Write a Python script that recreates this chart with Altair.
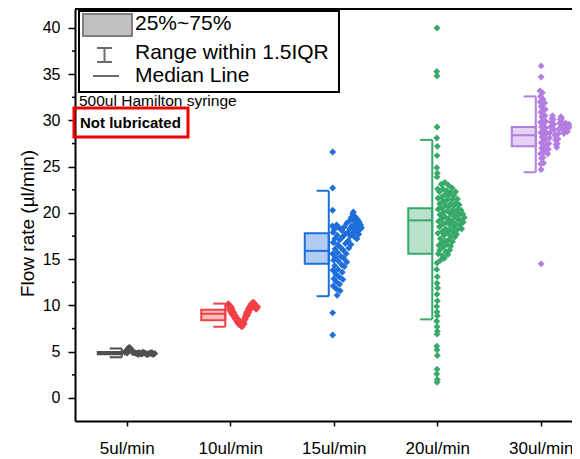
import json
import altair as alt
import pandas as pd

FONT = "Liberation Sans"

categories = ["5ul/min", "10ul/min", "15ul/min", "20ul/min", "30ul/min"]
colors = ["#505050", "#f04146", "#1e6edc", "#37aa69", "#b47de1"]

# box statistics
q1 = [4.72, 8.40, 14.5, 15.6, 27.2]
median = [4.85, 9.10, 15.9, 19.2, 28.4]
q3 = [4.98, 9.55, 17.8, 20.5, 29.3]
whisk_lo = [4.40, 7.70, 11.0, 8.5, 24.4]
whisk_hi = [5.35, 10.2, 22.4, 27.9, 32.6]

y_ticks = [0, 5, 10, 15, 20, 25, 30, 35, 40]
y_minor = [2.5, 7.5, 12.5, 17.5, 22.5, 27.5, 32.5, 37.5]

y_title = "Flow rate (µl/min)"
legend_labels = ["25%~75%", "Range within 1.5IQR", "Median Line"]
note_text = "500ul Hamilton syringe"
note_bold = "Not lubricated"

# points: [sample position within the group (0..100), flow rate]
pts_5 = [[0, 4.95], [3, 5.00], [5, 5.05], [7, 5.12], [9, 5.22], [11, 5.32], [13, 5.40],
         [15, 5.45], [17, 5.42], [19, 5.35], [21, 5.25], [23, 5.12], [25, 5.02], [28, 4.95],
         [31, 4.90], [34, 4.88], [37, 4.84], [40, 4.80], [43, 4.85], [46, 4.90], [49, 4.86],
         [52, 4.80], [55, 4.76], [58, 4.80], [61, 4.86], [64, 4.90], [67, 4.85], [70, 4.80],
         [73, 4.75], [76, 4.72], [79, 4.76], [82, 4.82], [85, 4.86], [88, 4.82], [91, 4.77],
         [94, 4.73], [97, 4.76], [100, 4.80], [8, 4.85], [18, 5.20], [27, 4.92], [45, 4.70],
         [60, 4.95], [75, 4.70], [90, 4.92]]

pts_10 = [[0, 10.2], [2, 9.9], [4, 10.0], [5, 9.5], [7, 9.7], [9, 9.3], [10, 9.8], [12, 9.1],
          [14, 9.4], [16, 8.9], [18, 9.2], [20, 8.8], [22, 8.6], [24, 8.9], [26, 8.5], [28, 8.3],
          [30, 8.6], [32, 8.1], [34, 8.3], [36, 7.95], [38, 8.1], [40, 7.85], [42, 7.9], [44, 7.75],
          [46, 7.7], [48, 7.85], [50, 8.1], [52, 8.3], [54, 8.5], [56, 8.7], [58, 8.9], [60, 9.1],
          [62, 9.3], [64, 9.2], [66, 9.5], [68, 9.7], [70, 9.6], [72, 9.9], [74, 10.0], [76, 9.9],
          [78, 10.2], [80, 10.1], [82, 10.3], [84, 10.35], [86, 10.1], [88, 10.2], [90, 9.9],
          [92, 10.0], [95, 9.7], [98, 9.85], [3, 9.6], [8, 9.9], [13, 9.6], [17, 9.3], [21, 9.0],
          [25, 8.7], [29, 8.5], [33, 8.5], [37, 8.2], [41, 8.1], [47, 8.0], [53, 8.0],
          [57, 8.5], [61, 8.8], [65, 9.0], [69, 9.3], [73, 9.6], [77, 9.7], [81, 9.8],
          [85, 9.9], [89, 9.8], [93, 9.6]]

pts_15 = [[3, 26.6], [3, 22.7], [3, 20.3], [3, 9.2], [3, 6.8],
          [2, 18.6], [4, 17.9], [5, 16.8], [3, 15.6], [6, 14.9], [4, 13.8], [7, 12.9], [5, 12.1],
          [9, 18.2], [10, 17.2], [11, 16.1], [12, 15.2], [10, 14.3], [13, 13.4], [14, 12.6],
          [15, 11.8], [18, 11.1], [16, 18.7], [18, 17.6], [19, 16.6], [20, 15.7], [22, 14.8],
          [21, 13.9], [24, 13.1], [26, 12.3], [28, 11.6], [25, 18.4], [27, 17.1], [29, 16.3],
          [31, 15.3], [33, 14.4], [35, 13.6], [37, 12.8], [34, 18.1], [36, 17.4], [38, 16.0],
          [40, 15.1], [42, 14.2], [42, 18.5], [44, 17.7], [46, 16.7], [48, 15.6], [50, 14.7],
          [50, 18.9], [53, 17.9], [55, 17.0], [57, 16.2], [58, 19.1], [60, 18.3], [62, 17.5],
          [64, 16.6], [65, 19.5], [67, 18.6], [69, 17.8], [70, 19.9], [72, 20.1], [73, 19.2],
          [75, 18.3], [76, 17.4], [78, 19.6], [80, 18.8], [82, 18.0], [84, 17.2], [86, 19.3],
          [88, 18.5], [90, 17.7], [92, 19.0], [94, 18.2], [96, 18.7], [99, 18.4]]

pts_20 = [[6, 40.0], [5, 35.3], [6, 34.8], [6, 29.3], [5, 28.1], [7, 27.2], [6, 26.2],
          [5, 24.9], [7, 24.3], [6, 23.9], [8, 22.6],
          [6, 14.6], [5, 13.9], [7, 13.1], [6, 12.4], [8, 11.9], [6, 11.2], [7, 10.5],
          [5, 9.9], [6, 9.3], [7, 8.9], [5, 8.3], [6, 7.7], [7, 7.2], [6, 6.9], [5, 5.6],
          [6, 5.2], [7, 4.6], [6, 3.1], [5, 2.6], [7, 2.0], [6, 1.7],
          [9, 21.6], [10, 20.4], [11, 19.1], [9, 17.8], [12, 16.5], [10, 15.6],
          [14, 22.3], [15, 21.0], [16, 19.8], [14, 18.5], [17, 17.2], [15, 16.0], [18, 14.9],
          [20, 23.1], [21, 21.7], [22, 20.5], [20, 19.3], [23, 18.0], [21, 16.8], [24, 15.4],
          [26, 22.6], [27, 21.3], [28, 20.1], [26, 18.8], [29, 17.6], [27, 16.3], [30, 15.1],
          [32, 23.3], [33, 22.0], [34, 20.8], [32, 19.6], [35, 18.3], [33, 17.0], [36, 15.8],
          [38, 22.4], [39, 21.4], [40, 20.2], [38, 19.0], [41, 17.8], [39, 16.6], [42, 15.5],
          [44, 23.0], [45, 21.9], [46, 20.7], [44, 19.4], [47, 18.2], [45, 17.1], [48, 16.0],
          [50, 22.2], [51, 21.0], [52, 19.9], [50, 18.7], [53, 17.5], [51, 16.4],
          [56, 22.7], [57, 21.5], [58, 20.3], [56, 19.1], [59, 18.0], [57, 16.9],
          [62, 21.9], [63, 20.8], [64, 19.6], [62, 18.5], [65, 17.4],
          [68, 22.3], [69, 21.1], [70, 20.0], [68, 18.8], [71, 17.7],
          [74, 21.5], [75, 20.4], [76, 19.3], [74, 18.2], [80, 20.9], [81, 19.8], [82, 18.7],
          [86, 20.3], [87, 19.2], [88, 18.3], [92, 19.9], [93, 19.0], [97, 19.5]]

pts_30 = [[8, 35.9], [8, 34.7], [8, 14.5],
          [4, 33.2], [6, 32.6], [5, 32.0], [8, 31.5], [7, 30.9], [10, 30.4], [6, 29.8],
          [9, 29.3], [7, 28.7], [11, 28.2], [8, 27.6], [10, 27.0], [6, 26.4], [9, 25.9],
          [7, 25.3], [8, 24.7], [12, 33.0], [14, 32.3], [13, 31.7], [16, 31.1], [14, 30.6],
          [17, 30.0], [15, 29.5], [18, 28.9], [14, 28.4], [17, 27.8], [15, 27.2], [18, 26.6],
          [14, 26.0], [16, 25.4], [20, 31.9], [22, 31.2], [21, 30.5], [24, 29.9], [23, 29.2],
          [26, 28.6], [24, 28.0], [27, 27.4], [25, 26.8],
          [30, 26.4], [32, 26.9], [34, 27.5], [36, 28.1], [38, 28.7], [40, 29.3], [42, 29.8],
          [44, 30.2], [46, 30.5], [48, 30.1], [50, 29.6], [52, 29.0], [54, 28.4], [56, 27.9],
          [58, 27.4], [60, 27.1], [62, 27.5], [64, 28.0], [66, 28.6], [68, 29.1], [70, 29.7],
          [72, 30.1], [74, 30.4], [76, 30.2], [78, 29.8], [80, 29.3], [82, 28.9], [84, 28.6],
          [86, 28.9], [88, 29.3], [90, 29.7], [92, 29.5], [94, 29.1], [96, 28.8], [98, 29.2],
          [100, 29.6], [103, 29.3]]

all_pts = [pts_5, pts_10, pts_15, pts_20, pts_30]

box_df = pd.DataFrame({
    "cat": categories, "idx": list(range(len(categories))),
    "q1": q1, "median": median, "q3": q3, "lo": whisk_lo, "hi": whisk_hi,
})
rows = []
for i, pts in enumerate(all_pts):
    for t, v in pts:
        rows.append({"cat": categories[i], "idx": i, "t": t, "v": v})
pts_df = pd.DataFrame(rows)

W, H = 497, 412
xs = alt.Scale(domain=[-0.5, 4.302], nice=False, zero=False)
ys = alt.Scale(domain=[-2.49, 42.05], nice=False, zero=False)
cs = alt.Scale(domain=categories, range=colors)

x_axis = alt.Axis(
    values=[0, 1, 2, 3, 4], labelExpr=json.dumps(categories) + "[datum.value]",
    title=None, grid=False, tickSize=5, tickWidth=1.5, tickColor="black",
    domainColor="black", domainWidth=2, labelFont=FONT, labelFontSize=17,
    labelColor="black", labelPadding=14,
)
y_axis = alt.Axis(
    values=y_ticks, title=y_title, grid=False, tickSize=7, tickWidth=1.5,
    tickColor="black", domainColor="black", domainWidth=2, labelFont=FONT,
    labelFontSize=16, labelColor="black", labelPadding=8, titleFont=FONT,
    titleFontSize=19, titleFontWeight="normal", titleColor="black",
    titleX=-48, titleY=214, titleAlign="center", titleBaseline="middle",
)

base_box = alt.Chart(box_df).transform_calculate(
    bx1="datum.idx - 0.28", bx2="datum.idx - 0.048", cx="datum.idx - 0.165"
)

boxes = base_box.mark_rect(fillOpacity=0.35, strokeWidth=2).encode(
    x=alt.X("bx1:Q", scale=xs, axis=x_axis), x2="bx2:Q",
    y=alt.Y("q1:Q", scale=ys, axis=y_axis), y2="q3:Q",
    fill=alt.Fill("cat:N", scale=cs, legend=None),
    stroke=alt.Stroke("cat:N", scale=cs, legend=None),
)
med_line = base_box.mark_rule(strokeWidth=2).encode(
    x=alt.X("bx1:Q", scale=xs), x2="bx2:Q",
    y=alt.Y("median:Q", scale=ys),
    color=alt.Color("cat:N", scale=cs, legend=None),
)
whisk = base_box.mark_rule(strokeWidth=2).encode(
    x=alt.X("bx2:Q", scale=xs),
    y=alt.Y("lo:Q", scale=ys), y2="hi:Q",
    color=alt.Color("cat:N", scale=cs, legend=None),
)
cap_lo = base_box.mark_rule(strokeWidth=2).encode(
    x=alt.X("cx:Q", scale=xs), x2="bx2:Q",
    y=alt.Y("lo:Q", scale=ys),
    color=alt.Color("cat:N", scale=cs, legend=None),
)
cap_hi = base_box.mark_rule(strokeWidth=2).encode(
    x=alt.X("cx:Q", scale=xs), x2="bx2:Q",
    y=alt.Y("hi:Q", scale=ys),
    color=alt.Color("cat:N", scale=cs, legend=None),
)

points = alt.Chart(pts_df).transform_calculate(
    px="datum.idx + (-2 + 30 * datum.t / 100) / 103.5"
).mark_point(shape="diamond", filled=True, size=48, opacity=1).encode(
    x=alt.X("px:Q", scale=xs),
    y=alt.Y("v:Q", scale=ys),
    color=alt.Color("cat:N", scale=cs, legend=None),
)

minor = alt.Chart(pd.DataFrame({"m": y_minor})).mark_rule(
    color="black", strokeWidth=1.5
).encode(y=alt.Y("m:Q", scale=ys), x=alt.value(-3), x2=alt.value(0))

one = pd.DataFrame({"a": [0]})
top_frame = alt.Chart(one).mark_rule(color="black", strokeWidth=2).encode(
    x=alt.value(0), x2=alt.value(W), y=alt.value(0)
)
leg_box = alt.Chart(one).mark_rect(fill="white", stroke="black", strokeWidth=2).encode(
    x=alt.value(4), x2=alt.value(264), y=alt.value(2), y2=alt.value(83)
)
leg_swatch = alt.Chart(one).mark_rect(fill="#c0c0c0", stroke="#7f7f7f", strokeWidth=2).encode(
    x=alt.value(8), x2=alt.value(57), y=alt.value(5), y2=alt.value(27)
)
leg_wv = alt.Chart(one).mark_rule(color="#6b6b6b", strokeWidth=2).encode(
    x=alt.value(29.5), y=alt.value(39), y2=alt.value(53)
)
leg_wt = alt.Chart(one).mark_rule(color="#6b6b6b", strokeWidth=2).encode(
    x=alt.value(22), x2=alt.value(37), y=alt.value(39)
)
leg_wb = alt.Chart(one).mark_rule(color="#6b6b6b", strokeWidth=2).encode(
    x=alt.value(22), x2=alt.value(37), y=alt.value(53)
)
leg_med = alt.Chart(one).mark_rule(color="#6b6b6b", strokeWidth=2).encode(
    x=alt.value(18), x2=alt.value(44), y=alt.value(67)
)


def txt(s, x, y, size, weight="normal"):
    return alt.Chart(one).mark_text(
        text=s, font=FONT, fontSize=size, fontWeight=weight, color="black",
        align="left", baseline="alphabetic"
    ).encode(x=alt.value(x), y=alt.value(y))


leg_t1 = txt(legend_labels[0], 60, 21, 21)
leg_t2 = txt(legend_labels[1], 60, 49.5, 21)
leg_t3 = txt(legend_labels[2], 60, 73, 21)
note1 = txt(note_text, 4, 97, 15.5)
red_box = alt.Chart(one).mark_rect(fillOpacity=0, stroke="#f00000", strokeWidth=3).encode(
    x=alt.value(-1), x2=alt.value(113), y=alt.value(99), y2=alt.value(128)
)
note2 = txt(note_bold, 5, 119, 15, "bold")

chart = alt.layer(
    boxes, med_line, whisk, cap_lo, cap_hi, points, minor, top_frame,
    leg_box, leg_swatch, leg_wv, leg_wt, leg_wb, leg_med, leg_t1, leg_t2, leg_t3,
    note1, red_box, note2,
).properties(
    width=W, height=H,
    autosize=alt.AutoSizeParams(type="none"),
    padding={"left": 67, "top": 1, "right": 0, "bottom": 36},
).configure_view(stroke="transparent", strokeWidth=0)

chart.save("out.html", embed_options={"renderer": "svg", "actions": False})
